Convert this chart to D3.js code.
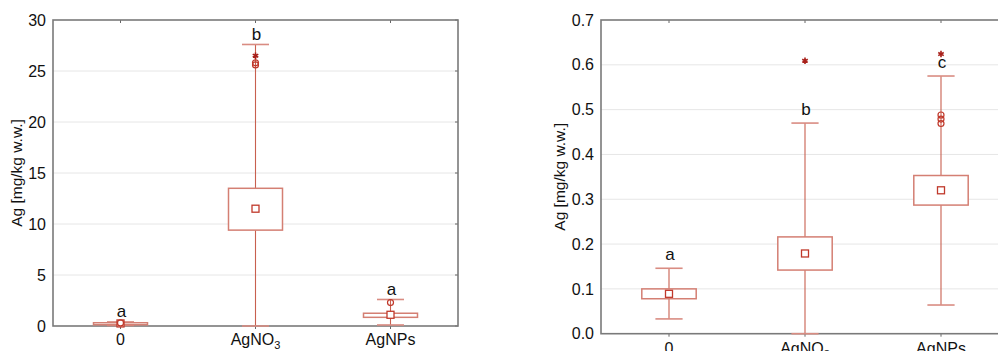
<!DOCTYPE html>
<html>
<head>
<meta charset="utf-8">
<script src="https://cdn.jsdelivr.net/npm/d3@7"></script>
<style>
  html, body { margin: 0; padding: 0; background: #fff; }
  svg { display: block; font-family: "Liberation Sans", Arial, sans-serif; }
</style>
</head>
<body>
<svg id="chart" width="998" height="351"></svg>
<script>
// Treatment groups (shared by both panels)
const groups = ["0", "AgNO3", "AgNPs"];

// Panel A: Ag content, y from 0 to 30
const aTicks = [0, 5, 10, 15, 20, 25, 30];
const aLow = [0.05, 0.0, 0.1];
const aQ1 = [0.12, 9.4, 0.85];
const aMean = [0.25, 11.5, 1.1];
const aQ3 = [0.32, 13.5, 1.25];
const aHigh = [0.4, 27.6, 2.6];
const aOutliers = [[0.3], [25.6, 25.8], [2.3]];
const aExtremes = [[], [26.5], []];
const aLetters = ["a", "b", "a"];

// Panel B: Ag content, y from 0.0 to 0.7
const bTicks = [0.0, 0.1, 0.2, 0.3, 0.4, 0.5, 0.6, 0.7];
const bLow = [0.033, 0.0, 0.064];
const bQ1 = [0.078, 0.142, 0.287];
const bMean = [0.089, 0.179, 0.32];
const bQ3 = [0.1, 0.216, 0.353];
const bHigh = [0.146, 0.47, 0.575];
const bOutliers = [[], [], [0.469, 0.479, 0.488]];
const bExtremes = [[], [0.609], [0.624]];
const bLetters = ["a", "b", "c"];

const yTitle = "Ag [mg/kg w.w.]";

const svg = d3.select("#chart");

function panel(cfg) {
  const { left, right, top, bottom, domain, ticks, fmt, data, titleX, letterGap, labelGap } = cfg;
  const g = svg.append("g");
  const x = d3.scaleBand().domain(groups).range([left, right]).padding(0);
  const y = d3.scaleLinear().domain(domain).range([bottom, top]);
  const bw = x.bandwidth();
  const cx = d => x(d) + bw / 2;

  // horizontal grid
  g.append("g").selectAll("line").data(ticks.slice(1, -1)).join("line")
    .attr("x1", left).attr("x2", right)
    .attr("y1", d => y(d)).attr("y2", d => y(d))
    .attr("stroke", "#e6e6e6").attr("stroke-width", 1);

  // y axis labels (no outward ticks)
  const yAxis = d3.axisLeft(y).tickValues(ticks).tickFormat(fmt).tickSize(0).tickPadding(7);
  const ya = g.append("g").attr("transform", `translate(${left},0)`).call(yAxis)
    .attr("font-size", 16).attr("font-family", "Liberation Sans, Arial, sans-serif");
  ya.select(".domain").remove();
  ya.selectAll("text").attr("fill", "#111");

  // right-side inward ticks
  g.append("g").selectAll("line").data(ticks).join("line")
    .attr("x1", right - 3).attr("x2", right)
    .attr("y1", d => y(d)).attr("y2", d => y(d))
    .attr("stroke", "#666").attr("stroke-width", 1);

  // top inward ticks and bottom outward ticks at groups
  g.append("g").selectAll("line").data(groups).join("line")
    .attr("x1", d => cx(d)).attr("x2", d => cx(d))
    .attr("y1", top).attr("y2", top + 3)
    .attr("stroke", "#666").attr("stroke-width", 1);
  g.append("g").selectAll("line").data(groups).join("line")
    .attr("x1", d => cx(d)).attr("x2", d => cx(d))
    .attr("y1", bottom).attr("y2", bottom + 3)
    .attr("stroke", "#666").attr("stroke-width", 1);

  // frame
  g.append("rect")
    .attr("x", left).attr("y", top)
    .attr("width", right - left).attr("height", bottom - top)
    .attr("fill", "none").attr("stroke", "#7a7a7a").attr("stroke-width", 1.6);

  // category labels
  const xl = g.append("g").selectAll("text").data(groups).join("text")
    .attr("x", d => cx(d)).attr("y", bottom + labelGap)
    .attr("text-anchor", "middle").attr("font-size", 16).attr("fill", "#111");
  xl.each(function (d) {
    const t = d3.select(this);
    const m = d.match(/^(.*?)(\d)$/);
    if (m && d !== "0") {
      t.append("tspan").text(m[1]);
      t.append("tspan").text(m[2]).attr("font-size", 11).attr("dy", 4);
    } else {
      t.text(d);
    }
  });

  // y title
  g.append("text")
    .attr("transform", `translate(${titleX},${(top + bottom) / 2}) rotate(-90)`)
    .attr("text-anchor", "middle").attr("font-size", 15.5).attr("fill", "#111")
    .text(yTitle);

  const boxW = bw * 0.4, capW = bw * 0.2;
  const idx = d3.range(groups.length);
  const boxes = g.append("g").selectAll("g").data(idx).join("g");

  // whisker stem
  boxes.append("line")
    .attr("x1", i => cx(groups[i])).attr("x2", i => cx(groups[i]))
    .attr("y1", i => y(data.low[i])).attr("y2", i => y(data.high[i]))
    .attr("stroke", "#c8604f").attr("stroke-width", 1.1);
  // caps
  ["low", "high"].forEach(k => {
    boxes.append("line")
      .attr("x1", i => cx(groups[i]) - capW / 2).attr("x2", i => cx(groups[i]) + capW / 2)
      .attr("y1", i => y(data[k][i])).attr("y2", i => y(data[k][i]))
      .attr("stroke", "#d98c82").attr("stroke-width", 1.6);
  });
  // box
  boxes.append("rect")
    .attr("x", i => cx(groups[i]) - boxW / 2)
    .attr("y", i => y(data.q3[i]))
    .attr("width", boxW)
    .attr("height", i => y(data.q1[i]) - y(data.q3[i]))
    .attr("fill", "#fff").attr("stroke", "#d47f73").attr("stroke-width", 1.5);
  // mean marker
  boxes.append("rect")
    .attr("x", i => cx(groups[i]) - 3.5).attr("y", i => y(data.mean[i]) - 3.5)
    .attr("width", 7).attr("height", 7)
    .attr("fill", "#fff").attr("stroke", "#c0392b").attr("stroke-width", 1.3);
  // outliers and extremes
  boxes.each(function (i) {
    d3.select(this).selectAll("circle").data(data.out[i]).join("circle")
      .attr("cx", cx(groups[i])).attr("cy", v => y(v)).attr("r", 3)
      .attr("fill", "none").attr("stroke", "#c0392b").attr("stroke-width", 1.2);
    d3.select(this).selectAll("path.ext").data(data.ext[i]).join("path")
      .attr("class", "ext")
      .attr("transform", v => `translate(${cx(groups[i])},${y(v)})`)
      .attr("d", d3.symbol(d3.symbolAsterisk, 28)())
      .attr("fill", "none").attr("stroke", "#a8201a").attr("stroke-width", 1.6);
  });
  // group letters
  boxes.append("text")
    .attr("x", i => cx(groups[i]) + 1)
    .attr("y", i => y(data.high[i]) - letterGap)
    .attr("text-anchor", "middle").attr("dominant-baseline", "central")
    .attr("font-size", 17).attr("fill", "#111")
    .text(i => data.letters[i]);
}

panel({
  left: 53, right: 458, top: 20, bottom: 326,
  domain: [0, 30], ticks: aTicks, fmt: d3.format("d"),
  titleX: 22, letterGap: 10, labelGap: 19,
  data: { low: aLow, q1: aQ1, mean: aMean, q3: aQ3, high: aHigh,
          out: aOutliers, ext: aExtremes, letters: aLetters }
});

panel({
  left: 601, right: 1009, top: 20, bottom: 333.7,
  domain: [0, 0.7], ticks: bTicks, fmt: d3.format(".1f"),
  titleX: 565, letterGap: 14, labelGap: 20,
  data: { low: bLow, q1: bQ1, mean: bMean, q3: bQ3, high: bHigh,
          out: bOutliers, ext: bExtremes, letters: bLetters }
});
</script>
</body>
</html>
